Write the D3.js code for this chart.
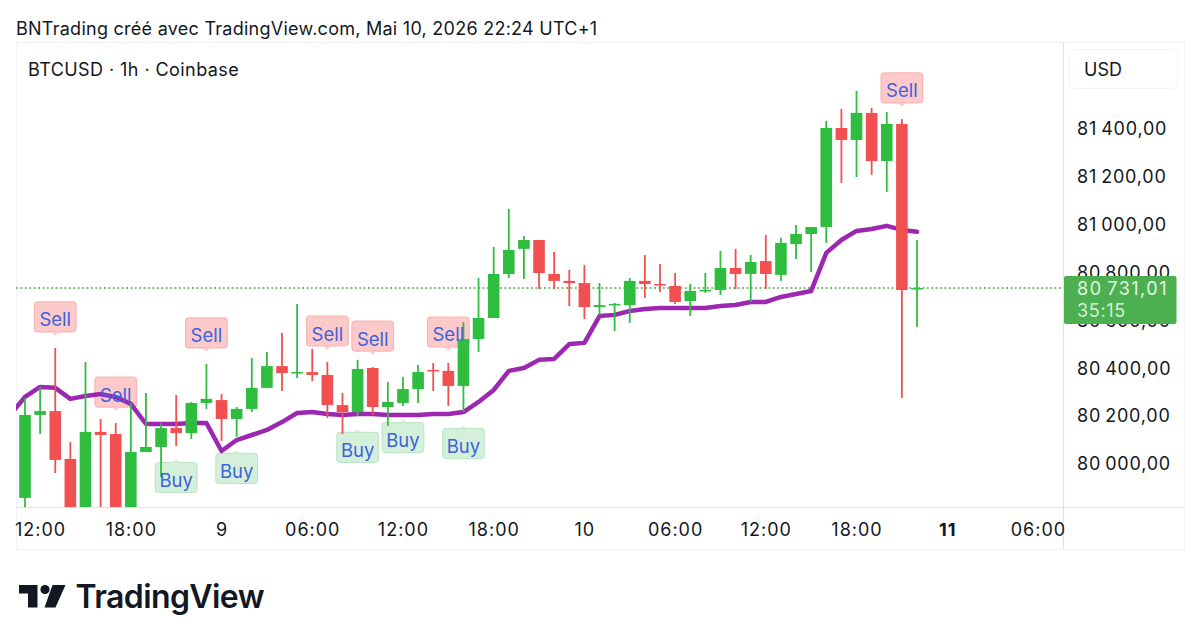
<!DOCTYPE html>
<html>
<head>
<meta charset="utf-8" />
<script src="https://cdn.jsdelivr.net/npm/d3@7"></script>
<style>
  html, body { margin: 0; padding: 0; background: #fff; }
  svg { display: block; }
  text { font-family: Inter, "Noto Sans", sans-serif; }
</style>
</head>
<body>
<svg id="chart" width="1200" height="644"></svg>
<script>
// hourly candles, first bar is May 8 11:00
const opens = [79854,80201,80217,80017,79741,80130,80121,79762,80046,80067,80146,80125,80251,80263,80184,80226,80314,80405,80376,80380,80368,80242,80213,80397,80234,80251,80309,80389,80385,80322,80518,80606,80790,80895,80932,80790,80761,80752,80652,80660,80660,80761,80748,80740,80677,80719,80723,80815,80790,80844,80786,80915,80957,80986,81400,81350,81463,81262,81417,80725];
const highs = [80272,80318,80481,80088,80422,80184,80167,80251,80293,80167,80284,80255,80414,80288,80234,80439,80464,80543,80665,80477,80422,80293,80431,80401,80339,80359,80410,80418,80418,80589,80773,80903,81062,80949,80932,80882,80807,80828,80752,80669,80773,80869,80832,80794,80748,80794,80886,80895,80869,80953,80941,80995,80986,81430,81480,81555,81484,81467,81438,80932];
const lows = [79804,80121,79958,79678,79678,79699,79720,79720,80046,79941,80071,80100,80226,80092,80109,80213,80314,80301,80355,80343,80188,80121,80197,80201,80155,80238,80251,80301,80238,80213,80464,80606,80773,80769,80727,80727,80656,80602,80619,80552,80585,80690,80715,80665,80614,80711,80702,80727,80673,80727,80761,80853,80798,80920,81170,81195,81204,81133,80272,80568];
const closes = [80201,80217,80013,79741,80130,80117,79762,80046,80067,80146,80125,80251,80268,80184,80226,80314,80405,80376,80380,80368,80242,80213,80393,80234,80255,80309,80380,80385,80322,80518,80606,80790,80890,80932,80794,80761,80752,80652,80660,80665,80761,80748,80744,80673,80719,80723,80815,80790,80840,80790,80920,80957,80986,81400,81350,81463,81262,81417,80723,80731];

// purple average, one value per bar, plus one bar before the first candle
const averageBars = d3.range(-1, 60);
const average = [80201,80276,80318,80314,80268,80280,80288,80276,80247,80163,80163,80163,80167,80167,80050,80096,80117,80138,80171,80209,80213,80205,80201,80205,80205,80201,80201,80201,80205,80205,80213,80255,80305,80385,80397,80431,80435,80497,80502,80614,80619,80635,80644,80648,80648,80648,80648,80656,80660,80673,80673,80694,80706,80719,80878,80932,80970,80978,80991,80974,80966];

const sellBars = [2, 6, 12, 20, 23, 28, 58];
const buyBars = [10, 14, 22, 25, 29];

const priceTicks = [80000,80200,80400,80600,80800,81000,81200,81400];
const timeTickBars = [1, 7, 13, 19, 25, 31, 37, 43, 49, 55, 61, 67];
const timeTickLabels = ["12:00","18:00","9","06:00","12:00","18:00","10","06:00","12:00","18:00","11","06:00"];

const lastPrice = 80731.01;
const countdown = "35:15";

const upColor = "#2fbd40";
const downColor = "#f25050";
const lineColor = "#9c27b0";
const tagColor = "#4caf50";
const signalText = "#3c62dd";

const pane = { left: 16, right: 1063, top: 42, bottom: 507 };

const svg = d3.select("#chart");

const x = d3.scaleLinear().domain([0, 59]).range([25, 917]);
const y = d3.scaleLinear().domain([80000, 81400]).range([463, 128]);

const frLocale = d3.formatLocale({
  decimal: ",",
  thousands: "\u2009",
  grouping: [3],
  currency: ["", " $"],
});
const priceFormat = frLocale.format(",.2f");

// Header
svg.append("text")
  .attr("x", 16).attr("y", 34.5)
  .attr("font-size", 18).attr("letter-spacing", 0.26).attr("fill", "#131722")
  .text("BNTrading créé avec TradingView.com, Mai 10, 2026 22:24 UTC+1");

// Frame
svg.append("rect")
  .attr("x", pane.left + 0.5).attr("y", pane.top + 0.5)
  .attr("width", 1168).attr("height", 507)
  .attr("fill", "#fff").attr("stroke", "#f0f3fa");

svg.append("defs").append("clipPath").attr("id", "pane-clip")
  .append("rect")
  .attr("x", pane.left).attr("y", pane.top)
  .attr("width", pane.right - pane.left)
  .attr("height", pane.bottom - pane.top);

const plot = svg.append("g").attr("clip-path", "url(#pane-clip)");

// Last price line
plot.append("line")
  .attr("x1", pane.left).attr("x2", pane.right)
  .attr("y1", y(lastPrice)).attr("y2", y(lastPrice))
  .attr("stroke", tagColor).attr("stroke-width", 1.5)
  .attr("stroke-dasharray", "2 2.4");

// Signal labels: box goes under the line and candles, text on top
const signalBox = (bar, isSell) => {
  const cx = x(bar);
  const tip = isSell ? y(highs[bar]) - 12.5 : y(lows[bar]) + 13.5;
  const boxTop = isSell ? tip - 33.5 : tip + 3;
  const fill = isSell ? "#fdc9c9" : "#d5f0da";
  const border = isSell ? "#fbb4b4" : "#c0e6c8";
  plot.append("rect")
    .attr("x", cx - 20.8).attr("y", boxTop)
    .attr("width", 41.6).attr("height", 30)
    .attr("rx", 3.5)
    .attr("fill", fill).attr("stroke", border).attr("stroke-width", 1.2);
  const pointer = isSell
    ? [[cx - 4, boxTop + 30], [cx, tip], [cx + 4, boxTop + 30]]
    : [[cx - 4, boxTop], [cx, tip], [cx + 4, boxTop]];
  plot.append("path").attr("d", d3.line()(pointer))
    .attr("fill", fill).attr("stroke", "none");
  return boxTop;
};
const sellTops = sellBars.map((b) => signalBox(b, true));
const buyTops = buyBars.map((b) => signalBox(b, false));

// Average line
const averageLine = d3.line()
  .x((d, i) => x(averageBars[i]))
  .y((d) => y(d));

plot.append("path")
  .attr("d", averageLine(average))
  .attr("fill", "none")
  .attr("stroke", lineColor)
  .attr("stroke-width", 4.5)
  .attr("stroke-linejoin", "round")
  .attr("stroke-linecap", "round");

// Candles
const bars = plot.selectAll("g.candle")
  .data(d3.range(opens.length))
  .enter()
  .append("g")
  .attr("class", "candle")
  .attr("fill", (i) => (closes[i] >= opens[i] ? upColor : downColor))
  .attr("stroke", (i) => (closes[i] >= opens[i] ? upColor : downColor));

bars.append("line")
  .attr("x1", (i) => x(i)).attr("x2", (i) => x(i))
  .attr("y1", (i) => y(highs[i])).attr("y2", (i) => y(lows[i]))
  .attr("stroke-width", 1.8);

bars.append("rect")
  .attr("x", (i) => x(i) - 5.8)
  .attr("width", 11.6)
  .attr("y", (i) => y(Math.max(opens[i], closes[i])))
  .attr("height", (i) => Math.max(1.5, Math.abs(y(opens[i]) - y(closes[i]))))
  .attr("stroke", "none");

// Signal texts
const signalWord = (bar, top, word) => {
  plot.append("text")
    .attr("x", x(bar)).attr("y", top + 24.5)
    .attr("text-anchor", "middle")
    .attr("font-size", 18.5).attr("fill", signalText)
    .text(word);
};
sellBars.forEach((b, i) => signalWord(b, sellTops[i], "Sell"));
buyBars.forEach((b, i) => signalWord(b, buyTops[i], "Buy"));

// Symbol legend
svg.append("text")
  .attr("x", 28).attr("y", 76)
  .attr("font-size", 18).attr("letter-spacing", 0.43).attr("fill", "#131722")
  .text("BTCUSD · 1h · Coinbase");

// Price axis
const priceAxis = d3.axisRight(y)
  .tickValues(priceTicks)
  .tickFormat(priceFormat)
  .tickSize(0)
  .tickPadding(14);

const priceG = svg.append("g")
  .attr("transform", `translate(${pane.right},1)`)
  .call(priceAxis);
priceG.select(".domain").remove();
priceG.selectAll("text")
  .attr("font-size", 18)
  .attr("letter-spacing", 0.8)
  .attr("font-family", "Inter, sans-serif")
  .attr("fill", "#131722");

svg.append("line")
  .attr("x1", pane.right + 0.5).attr("x2", pane.right + 0.5)
  .attr("y1", pane.top).attr("y2", 549)
  .attr("stroke", "#e0e3eb").attr("stroke-width", 1.2);

// Time axis
const timeAxis = d3.axisBottom(x)
  .tickValues(timeTickBars)
  .tickFormat((d, i) => timeTickLabels[i])
  .tickSize(0)
  .tickPadding(16);

const timeG = svg.append("g")
  .attr("transform", `translate(0,${pane.bottom})`)
  .call(timeAxis);
timeG.select(".domain").remove();
timeG.selectAll("text")
  .attr("font-size", 18)
  .attr("letter-spacing", 1)
  .attr("font-family", "Inter, sans-serif")
  .attr("fill", "#131722")
  .attr("font-weight", (d, i) => (timeTickLabels[i] === "11" ? 700 : 400));

svg.append("line")
  .attr("x1", pane.left).attr("x2", 1184)
  .attr("y1", pane.bottom + 0.5).attr("y2", pane.bottom + 0.5)
  .attr("stroke", "#e0e3eb").attr("stroke-width", 1.2);

// Currency button
svg.append("rect")
  .attr("x", 1069.5).attr("y", 49.5)
  .attr("width", 108).attr("height", 39)
  .attr("rx", 6)
  .attr("fill", "#fff").attr("stroke", "#f0f3fa");
svg.append("text")
  .attr("x", 1084).attr("y", 75.5)
  .attr("font-size", 18).attr("fill", "#131722")
  .text("USD");

// Last price tag
svg.append("rect")
  .attr("x", 1064).attr("y", 276)
  .attr("width", 112.5).attr("height", 48)
  .attr("rx", 2)
  .attr("fill", tagColor);
svg.append("text")
  .attr("x", 1077).attr("y", 295)
  .attr("font-size", 18).attr("letter-spacing", 1.5).attr("fill", "#e2f6e3")
  .text(priceFormat(lastPrice));
svg.append("text")
  .attr("x", 1077).attr("y", 317)
  .attr("font-size", 18).attr("letter-spacing", 0.7).attr("fill", "#d4f0d6")
  .text(countdown);

// TradingView logo
const logo = svg.append("g").attr("fill", "#131722");
logo.append("path").attr("d", "M19 585H37.5V607.5H28V593.5H19Z");
logo.append("circle").attr("cx", 45).attr("cy", 589.5).attr("r", 4.6);
logo.append("path").attr("d", "M52.5 585H65.5L55.5 607.5H44.5Z");
svg.append("text")
  .attr("x", 75.5).attr("y", 607.5)
  .attr("font-size", 32).attr("font-weight", 600)
  .attr("letter-spacing", -0.6)
  .attr("fill", "#131722")
  .text("TradingView");
</script>
</body>
</html>
